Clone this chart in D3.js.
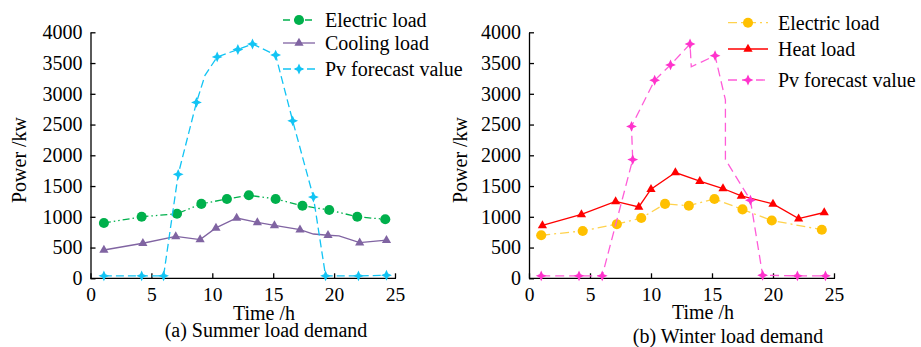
<!DOCTYPE html>
<html lang="en">
<head>
<meta charset="UTF-8">
<title>Summer / winter load demand</title>
<script src="https://d3js.org/d3.v7.min.js"></script>
<style>
  body { margin: 0; background: #fff; }
  svg text { font-family: "Liberation Serif", "Times New Roman", serif !important; fill: #000; }
</style>
</head>
<body>
<svg width="921" height="347"></svg>
<script>
// ---- data (time in h, power in kW) ----
var xTicks = [0, 5, 10, 15, 20, 25];
var yTicks = [0, 500, 1000, 1500, 2000, 2500, 3000, 3500, 4000];

// summer
var sumElecT = [1.1, 4.2, 7.1, 9.1, 11.2, 13.0, 15.2, 17.4, 19.6, 21.9, 24.2];
var sumElecV = [900, 1000, 1050, 1210, 1290, 1350, 1290, 1180, 1110, 1000, 960];
var sumCoolT = [1.1, 4.3, 7.0, 9.0, 10.3, 12.0, 13.7, 15.1, 17.2, 18.3, 19.5, 20.4, 22.1, 24.3];
var sumCoolV = [460, 570, 680, 630, 820, 980, 910, 860, 790, 720, 700, 690, 580, 620];
var sumCoolNoMark = [9, 11];
var sumPvT = [1.1, 4.2, 6.0, 7.2, 8.7, 9.4, 10.4, 12.1, 13.3, 15.2, 16.6, 18.3, 19.3, 22.0, 24.3];
var sumPvV = [40, 40, 40, 1690, 2860, 3300, 3600, 3720, 3810, 3630, 2560, 1320, 40, 40, 50];
var sumPvNoMark = [5];

// winter
var winElecT = [1.0, 4.4, 7.2, 9.2, 11.15, 13.1, 15.2, 17.5, 19.9, 24.0];
var winElecV = [700, 770, 880, 980, 1210, 1180, 1290, 1120, 940, 790];
var winHeatT = [1.1, 4.3, 7.1, 9.0, 10.0, 12.0, 14.0, 15.9, 17.4, 20.0, 22.1, 24.2];
var winHeatV = [860, 1040, 1250, 1160, 1450, 1720, 1580, 1460, 1340, 1210, 970, 1070];
var winPvT = [1.0, 4.1, 6.0, 8.5, 8.4, 10.3, 11.6, 13.2, 13.3, 15.25, 16.1, 16.1, 18.15, 19.15, 22.0, 24.3];
var winPvV = [40, 40, 40, 1930, 2470, 3220, 3470, 3810, 3440, 3620, 2900, 1930, 1270, 50, 40, 40];
var winPvNoMark = [8, 10, 11];

var FONT = '"Liberation Serif", "Times New Roman", serif';
var svg = d3.select('svg');

var y = d3.scaleLinear().domain([0, 4000]).range([278.3, 32.3]);

// marker shapes
function markPath(kind) {
  if (kind === 'circle') return d3.symbol(d3.symbolCircle, 80)();
  if (kind === 'tri') return 'M0,-5.2L4.6,2.8L-4.6,2.8Z';
  // four point star
  var r = 5.4, w = 1.7;
  return 'M0,' + (-r) + 'L' + w + ',' + (-w) + 'L' + r + ',0L' + w + ',' + w +
         'L0,' + r + 'L' + (-w) + ',' + w + 'L' + (-r) + ',0L' + (-w) + ',' + (-w) + 'Z';
}

function drawPanel(opt) {
  var x = d3.scaleLinear().domain([0, 25]).range(opt.xRange);
  var g = svg.append('g');

  // axes
  var ax = g.append('g').attr('transform', 'translate(' + opt.xRange[0] + ',0)')
    .call(d3.axisLeft(y).tickValues(yTicks).tickFormat(d3.format('d'))
      .tickSizeInner(-5).tickSizeOuter(0).tickPadding(8));
  var bx = g.append('g').attr('transform', 'translate(0,' + y(0) + ')')
    .call(d3.axisBottom(x).tickValues(xTicks).tickFormat(d3.format('d'))
      .tickSizeInner(-5).tickSizeOuter(0).tickPadding(9));
  [ax, bx].forEach(function(a) {
    a.attr('font-family', FONT);
    a.selectAll('path, line').attr('stroke', '#000').attr('stroke-width', 1.3);
    a.selectAll('text').style('font-family', FONT).style('font-size', '20px').attr('fill', '#000');
  });
  bx.selectAll('text').style('font-size', '19.5px');
  bx.select('.domain').attr('d', 'M' + opt.xRange[0] + ',0H' + (opt.xRange[1] + 1));

  // series
  opt.series.forEach(function(s) {
    var pts = s.t.map(function(t, i) { return { t: t, v: s.v[i], i: i }; });
    g.append('path')
      .attr('d', d3.line().x(function(d) { return x(d.t); }).y(function(d) { return y(d.v); })(pts))
      .attr('fill', 'none')
      .attr('stroke', s.line)
      .attr('stroke-width', 1.3)
      .attr('stroke-dasharray', s.dash);
    g.selectAll(null)
      .data(pts.filter(function(d) { return (s.noMark || []).indexOf(d.i) < 0; }))
      .enter().append('path')
      .attr('d', markPath(s.mark))
      .attr('transform', function(d) { return 'translate(' + x(d.t) + ',' + y(d.v) + ')'; })
      .attr('fill', s.color);
  });

  // legend
  var lg = opt.legend;
  opt.series.forEach(function(s, i) {
    var ly = lg.rows[i];
    g.append('line')
      .attr('x1', lg.x0).attr('x2', lg.x1).attr('y1', ly).attr('y2', ly)
      .attr('stroke', s.line).attr('stroke-width', 1.3).attr('stroke-dasharray', s.legendDash);
    g.append('path').attr('d', markPath(s.mark))
      .attr('transform', 'translate(' + ((lg.x0 + lg.x1) / 2) + ',' + ly + ')')
      .attr('fill', s.color);
    g.append('text').attr('x', lg.tx).attr('y', ly).attr('dy', '0.35em')
      .style('font-family', FONT).style('font-size', '20px').text(s.name);
  });

  // labels
  g.append('text')
    .attr('transform', 'translate(' + opt.yLabelX + ',160) rotate(-90)')
    .attr('text-anchor', 'middle').style('font-family', FONT).style('font-size', '20px').text('Power /kw');
  g.append('text').attr('x', opt.xLabelX).attr('y', opt.xLabelY)
    .attr('text-anchor', 'middle').style('font-family', FONT).style('font-size', '20px').text('Time /h');
  g.append('text').attr('x', opt.capX).attr('y', opt.capY)
    .attr('text-anchor', 'middle').style('font-family', FONT).style('font-size', '20px').text(opt.caption);
}

drawPanel({
  xRange: [90.5, 395],
  series: [
    { name: 'Electric load', t: sumElecT, v: sumElecV, color: '#00B04C', line: '#00B04C',
      mark: 'circle', dash: '7,3,1.5,3,1.5,3', legendDash: '7,4' },
    { name: 'Cooling load', t: sumCoolT, v: sumCoolV, noMark: sumCoolNoMark, color: '#8064A2',
      line: '#8064A2', mark: 'tri', dash: null, legendDash: null },
    { name: 'Pv forecast value', t: sumPvT, v: sumPvV, noMark: sumPvNoMark, color: '#12C4F4',
      line: '#12C4F4', mark: 'star', dash: '8,4', legendDash: '8,4' }
  ],
  legend: { rows: [20, 43, 69], x0: 283, x1: 315, tx: 325 },
  yLabelX: 26, xLabelX: 264, xLabelY: 320,
  capX: 266, capY: 337, caption: '(a) Summer load demand'
});

drawPanel({
  xRange: [529, 834],
  series: [
    { name: 'Electric load', t: winElecT, v: winElecV, color: '#FFC000', line: '#FFD24D',
      mark: 'circle', dash: '9,4,2,4', legendDash: '9,4,2,4' },
    { name: 'Heat load', t: winHeatT, v: winHeatV, color: '#FF0000', line: '#FF0000',
      mark: 'tri', dash: null, legendDash: null },
    { name: 'Pv forecast value', t: winPvT, v: winPvV, noMark: winPvNoMark, color: '#FF33CC',
      line: '#FF5CD8', mark: 'star', dash: '9,5', legendDash: '9,5' }
  ],
  legend: { rows: [22.7, 49, 80], x0: 728, x1: 768, tx: 778 },
  yLabelX: 467, xLabelX: 703, xLabelY: 319,
  capX: 728, capY: 343, caption: '(b) Winter load demand'
});
</script>
</body>
</html>
